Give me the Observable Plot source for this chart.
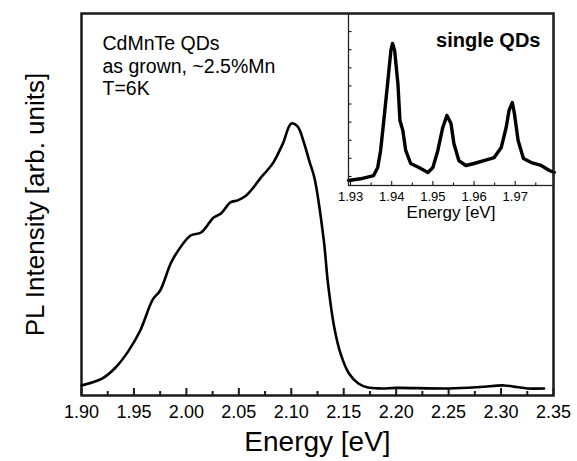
<!DOCTYPE html>
<html><head><meta charset="utf-8">
<script src="https://cdn.jsdelivr.net/npm/d3@7"></script>
<script src="https://cdn.jsdelivr.net/npm/@observablehq/plot@0.6"></script>
<style>
body{margin:0;background:#fff}
#wrap{position:relative;width:577px;height:461px;background:#fff}
#insetplot{position:absolute;left:338px;top:3px}
</style>
</head><body><div id="wrap"><div id="mainplot"></div><div id="insetplot"></div></div>
<script>
// Main PL spectrum (arb. units)
const mainEnergy = [1.900,1.910,1.920,1.9325,1.945,1.956,1.968,1.975,1.985,1.991,2.004,2.014,2.026,2.033,2.042,2.049,2.057,2.064,2.071,2.077,2.083,2.092,2.100,2.106,2.112,2.117,2.122,2.131,2.135,2.141,2.147,2.155,2.164,2.173,2.186,2.200,2.250,2.280,2.303,2.315,2.325,2.341];
const mainIntensity = [0.037,0.048,0.063,0.103,0.165,0.239,0.353,0.386,0.485,0.526,0.588,0.599,0.654,0.669,0.710,0.717,0.735,0.765,0.801,0.827,0.857,0.926,1.000,0.989,0.930,0.864,0.801,0.570,0.412,0.250,0.154,0.081,0.044,0.029,0.026,0.028,0.026,0.031,0.037,0.031,0.026,0.026];
const mainXTicks = [1.90,1.95,2.00,2.05,2.10,2.15,2.20,2.25,2.30,2.35];
const mainXMinor = [1.925,1.975,2.025,2.075,2.125,2.175,2.225,2.275,2.325];

// Inset: single QD spectrum (counts)
const insetEnergy = [1.9295,1.9324,1.9356,1.9366,1.9373,1.9380,1.9390,1.9398,1.9402,1.9407,1.9415,1.9420,1.9427,1.9434,1.9446,1.9466,1.9488,1.9500,1.9512,1.9524,1.9534,1.9544,1.9551,1.9563,1.9580,1.9600,1.9624,1.9649,1.9666,1.9678,1.9685,1.9693,1.9698,1.9707,1.9720,1.9739,1.9763,1.9783,1.9795];
const insetCounts = [55,74,110,200,387,685,1127,1492,1569,1492,1127,718,608,387,243,199,144,199,387,641,774,685,464,276,221,243,276,309,420,641,829,917,796,497,298,254,221,166,144];
const insetXTicks = [1.93,1.94,1.95,1.96,1.97];
const insetXMinor = [1.935,1.945,1.955,1.965,1.975];
const insetYTicks = [100,300,500,700,900,1100,1300,1500,1700];

const annotationLines = ["CdMnTe QDs","as grown, ~2.5%Mn","T=6K"];
const font = "'Liberation Sans', Arial, sans-serif";

const mainData = mainEnergy.map((e,i)=>({e, v: mainIntensity[i]}));
const insetData = insetEnergy.map((e,i)=>({e, v: insetCounts[i]}));

const chartMain = Plot.plot({
  width: 577, height: 461,
  marginLeft: 81, marginRight: 24, marginTop: 13, marginBottom: 66,
  style: {fontFamily: font, background: "white", color: "black"},
  x: {domain: [1.9, 2.35]},
  y: {domain: [0, 1.404], axis: null},
  marks: [
    Plot.frame({stroke: "#1a1a1a", strokeWidth: 2.5}),
    Plot.line(mainData, {x: "e", y: "v", stroke: "black", strokeWidth: 2.6, curve: "catmull-rom"}),
    Plot.axisX(mainXTicks, {tickSize: -7, tickPadding: 17, fontSize: 18, tickFormat: d3.format(".2f"), label: null, stroke: "#1a1a1a", strokeWidth: 2}),
    Plot.axisX(mainXMinor, {tickSize: -4, tickFormat: () => "", label: null, stroke: "#1a1a1a", strokeWidth: 2}),
    Plot.text([annotationLines.join("\n")], {frameAnchor: "top-left", dx: 21, dy: 20, lineAnchor: "top", textAnchor: "start", lineHeight: 1.17, fontSize: 19.5}),
    Plot.text(["Energy [eV]"], {frameAnchor: "bottom", dy: 55, fontSize: 28}),
    Plot.text(["PL Intensity [arb. units]"], {frameAnchor: "left", textAnchor: "middle", lineAnchor: "middle", dx: -46, rotate: -90, fontSize: 26})
  ]
});
document.getElementById("mainplot").appendChild(chartMain);

const chartInset = Plot.plot({
  width: 225, height: 227,
  marginLeft: 10, marginRight: 10, marginTop: 10, marginBottom: 45,
  style: {fontFamily: font, background: "transparent", color: "black"},
  x: {domain: [1.9295, 1.9793]},
  y: {domain: [0, 1900], axis: null},
  marks: [
    Plot.line(insetData, {x: "e", y: "v", stroke: "black", strokeWidth: 3.4}),
    Plot.axisX(insetXTicks, {tickSize: -4, tickPadding: 10, fontSize: 13, tickFormat: d3.format(".2f"), label: null, stroke: "black"}),
    Plot.axisX(insetXMinor, {tickSize: -2.5, tickFormat: () => "", label: null, stroke: "black"}),
    Plot.axisY(insetYTicks, {tickSize: -3.5, tickFormat: () => "", label: null, stroke: "black"}),
    Plot.frame({stroke: "#222", strokeWidth: 1.3}),
    Plot.text(["single QDs"], {frameAnchor: "top-right", lineAnchor: "top", dx: -13, dy: 19, fontSize: 20, fontWeight: "bold"}),
    Plot.text(["Energy [eV]"], {frameAnchor: "bottom", dy: 32, fontSize: 17})
  ]
});
document.getElementById("insetplot").appendChild(chartInset);
</script>
</body></html>
